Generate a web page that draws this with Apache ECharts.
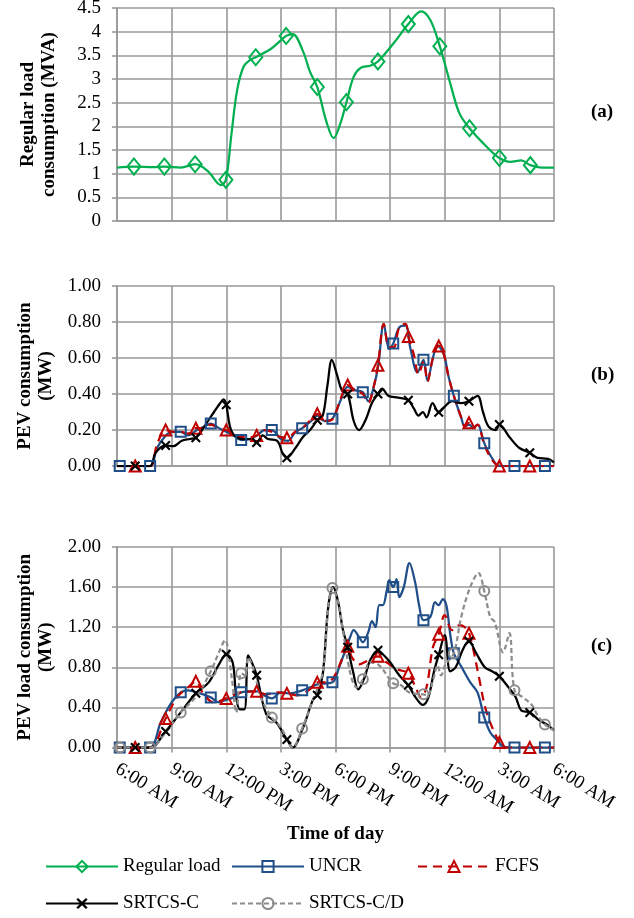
<!DOCTYPE html>
<html><head><meta charset="utf-8">
<script src="https://cdn.jsdelivr.net/npm/echarts@6/dist/echarts.min.js"></script>
<style>html,body{margin:0;padding:0;background:#fff}#c{width:634px;height:918px}</style>
</head><body><div id="c"></div>
<script>
// ---------- tick labels ----------
const xTickLabels = ['6:00 AM','9:00 AM','12:00 PM','3:00 PM','6:00 PM','9:00 PM','12:00 AM','3:00 AM','6:00 AM'];
const yTicksA = ['0','0.5','1','1.5','2','2.5','3','3.5','4','4.5'];
const yTicksB = ['0.00','0.20','0.40','0.60','0.80','1.00'];
const yTicksC = ['0.00','0.40','0.80','1.20','1.60','2.00'];

// ---------- marker times (hours after 6:00 AM) ----------
const diamondMarks = [0.93,2.6,4.29,5.98,7.62,9.29,11.0,12.6,14.33,16.0,17.73,19.36,21.0,22.7];
const squareMarks = [0.15,1.82,3.5,5.15,6.82,8.5,10.17,11.83,13.5,15.17,16.83,18.5,20.17,21.83,23.5];
const triMarks = [1.0,2.67,4.33,6.0,7.67,9.33,11.0,12.67,14.33,16.0,17.67,19.33,21.0,22.67];

// ---------- (a) Regular load (MVA) ----------
const loadT = [0,0.93,2,2.6,3.5,4.29,5.0,5.7,5.98,6.29,6.6,6.96,7.3,7.62,8.5,9.29,9.65,10.2,10.6,11.0,11.5,11.9,12.3,12.6,13.0,13.4,13.9,14.33,15.2,16.0,16.7,17.2,17.73,18.3,18.8,19.36,20.3,21.0,21.6,22.2,22.7,23.3,24];
const loadV = [1.13,1.15,1.14,1.15,1.13,1.2,1.05,0.76,0.87,1.85,2.77,3.27,3.4,3.46,3.65,3.91,3.95,3.6,3.15,2.83,2.1,1.75,2.1,2.51,3.05,3.24,3.28,3.37,3.76,4.16,4.43,4.25,3.69,2.91,2.28,1.96,1.57,1.33,1.25,1.28,1.18,1.13,1.13];

// ---------- (b) PEV consumption (MW) ----------
const uncrBT = [0,0.15,1.0,1.82,2.2,2.6,3.0,3.5,3.9,4.4,4.8,5.15,5.6,6.0,6.4,6.82,7.3,7.7,8.1,8.5,9.0,9.4,9.8,10.17,10.67,11.0,11.4,11.83,12.3,12.67,13.1,13.5,13.8,14.1,14.35,14.65,14.95,15.17,15.5,15.85,16.1,16.5,16.83,17.05,17.35,17.6,17.95,18.2,18.5,18.9,19.1,19.35,19.56,19.8,20.17,20.56,21.0,21.83,22.67,23.5,24];
const uncrBV = [0,0,0,0,0.1,0.16,0.19,0.19,0.17,0.2,0.22,0.236,0.21,0.19,0.17,0.144,0.15,0.17,0.2,0.2,0.15,0.14,0.19,0.21,0.25,0.28,0.25,0.263,0.37,0.44,0.42,0.41,0.36,0.44,0.56,0.79,0.65,0.68,0.77,0.78,0.66,0.52,0.59,0.475,0.6,0.67,0.62,0.5,0.39,0.27,0.22,0.23,0.21,0.23,0.127,0.05,0,0,0,0,0];
const fcfsBT = [0,1.0,1.82,2.2,2.67,3.1,3.5,3.9,4.33,4.8,5.15,5.6,6.0,6.4,6.82,7.3,7.67,8.1,8.5,9.0,9.33,9.8,10.17,10.67,11.0,11.4,11.83,12.3,12.67,13.1,13.5,13.8,14.1,14.33,14.65,14.95,15.2,15.5,15.85,16.0,16.3,16.56,16.84,17.05,17.35,17.67,17.95,18.2,18.5,18.9,19.1,19.33,19.56,19.8,20.17,20.56,21.0,22.67,24];
const fcfsBV = [0,0,0,0.12,0.2,0.19,0.19,0.18,0.21,0.21,0.23,0.21,0.2,0.18,0.16,0.16,0.17,0.2,0.19,0.16,0.157,0.19,0.21,0.26,0.29,0.25,0.26,0.38,0.45,0.42,0.4,0.35,0.44,0.56,0.79,0.66,0.66,0.77,0.79,0.72,0.62,0.51,0.58,0.47,0.6,0.667,0.62,0.5,0.39,0.27,0.22,0.24,0.21,0.23,0.12,0.04,0,0,0];
const srcBT = [0,1.0,1.82,2.1,2.67,3.1,3.56,4.0,4.33,4.67,5.0,5.33,5.67,5.85,6.0,6.2,6.44,6.9,7.3,7.67,8.0,8.3,8.8,9.1,9.33,9.8,10.2,10.6,11.0,11.3,11.56,11.8,12.1,12.35,12.67,13.0,13.3,13.67,14.0,14.33,14.56,14.9,15.44,16.0,16.3,16.56,16.8,17.0,17.33,17.67,18.0,18.4,18.9,19.33,19.8,20.1,20.4,20.8,21.0,21.56,22.1,22.67,23.1,23.67,24];
const srcBV = [0,0,0,0.07,0.114,0.11,0.14,0.15,0.157,0.2,0.25,0.3,0.35,0.37,0.34,0.22,0.17,0.15,0.15,0.13,0.17,0.15,0.14,0.07,0.046,0.1,0.16,0.2,0.254,0.28,0.45,0.59,0.5,0.42,0.40,0.25,0.2,0.26,0.35,0.40,0.43,0.39,0.38,0.365,0.32,0.28,0.3,0.27,0.35,0.298,0.33,0.36,0.35,0.36,0.39,0.3,0.22,0.2,0.23,0.16,0.1,0.074,0.045,0.04,0.02];

// ---------- (c) PEV load consumption (MW) ----------
const uncrCT = [0,0.15,1.0,1.82,2.4,3.0,3.5,3.9,4.4,5.15,5.6,5.9,6.4,6.82,7.3,7.7,8.1,8.5,9.0,9.5,10.17,10.6,11.0,11.83,12.2,12.5,12.8,13.0,13.3,13.5,13.8,14.0,14.2,14.4,14.6,14.8,14.95,15.17,15.35,15.5,15.75,16.06,16.37,16.6,16.83,17.2,17.47,17.65,17.9,18.1,18.3,18.5,18.9,19.4,19.8,20.17,20.5,20.9,21.2,21.83,22.67,23.5,24];
const uncrCV = [0,0,0,0,0.25,0.45,0.55,0.57,0.55,0.50,0.45,0.47,0.5,0.55,0.56,0.56,0.52,0.49,0.55,0.54,0.57,0.6,0.63,0.65,0.8,0.95,1.1,1.17,1.1,1.05,1.15,1.26,1.2,1.42,1.42,1.55,1.67,1.6,1.68,1.5,1.6,1.84,1.65,1.41,1.27,1.3,1.45,1.42,1.48,1.41,1.13,0.94,0.81,0.65,0.55,0.30,0.15,0.07,0.01,0,0,0,0];
const fcfsCT = [0,1.0,1.82,2.67,3.3,3.9,4.33,4.7,5.3,6.0,6.8,7.67,8.2,8.8,9.33,9.9,10.6,11.0,11.5,11.9,12.4,12.67,12.9,13.3,13.7,14.33,14.8,15.4,16.0,16.4,16.7,17.0,17.35,17.67,18.0,18.4,18.8,19.1,19.33,19.6,19.9,20.3,21.0,21.3,22.67,24];
const fcfsCV = [0,0,0,0.29,0.5,0.6,0.66,0.55,0.45,0.49,0.55,0.56,0.53,0.55,0.54,0.52,0.58,0.65,0.65,0.7,0.9,1.01,0.9,0.83,0.86,0.91,0.85,0.78,0.74,0.6,0.5,0.6,1.0,1.13,1.32,1.17,1.22,1.2,1.14,0.95,0.68,0.35,0.05,0,0,0];
const srcCT = [0,1.0,1.82,2.67,3.5,4.33,5.04,5.6,6.0,6.35,6.55,6.75,7.0,7.2,7.4,7.67,8.2,8.75,9.33,9.65,10.2,10.77,11.0,11.3,11.6,11.87,12.15,12.4,12.67,12.96,13.25,13.6,13.9,14.33,14.6,15.0,15.5,16.0,16.4,16.8,17.1,17.4,17.67,18.0,18.3,18.6,19.0,19.33,19.7,20.2,20.6,21.0,21.5,21.9,22.2,22.67,23.2,23.6,24];
const srcCV = [0,0,0,0.16,0.35,0.54,0.65,0.83,0.93,0.85,0.5,0.38,0.38,0.92,0.85,0.72,0.33,0.25,0.08,0.0,0.19,0.48,0.52,0.73,1.4,1.6,1.45,1.18,1.0,0.76,0.58,0.7,0.87,0.97,0.93,0.85,0.72,0.62,0.5,0.425,0.5,0.75,0.925,1.12,0.76,0.8,0.98,1.06,0.95,0.8,0.76,0.71,0.6,0.5,0.37,0.35,0.27,0.23,0.17];
const srcdCT = [0,0.15,1.0,1.82,2.67,3.5,4.4,5.15,5.6,5.93,6.3,6.55,6.82,7.05,7.2,7.5,7.9,8.5,9.0,9.65,10.17,10.77,11.3,11.6,11.83,12.15,12.4,12.8,13.16,13.5,13.9,14.4,15.17,15.6,16.04,16.83,17.04,17.4,17.6,17.8,18.04,18.5,18.9,19.4,19.85,20.17,20.5,20.75,21.2,21.55,21.83,22.3,22.8,23.1,23.5,24];
const srcdCV = [0,0,0,0,0.15,0.35,0.52,0.76,0.95,1.07,0.7,0.35,0.74,0.72,0.9,0.78,0.5,0.3,0.2,0.0,0.19,0.48,0.75,1.4,1.59,1.45,1.18,0.75,0.6,0.68,0.85,0.82,0.64,0.62,0.55,0.53,0.52,0.7,0.82,0.72,0.83,0.94,1.3,1.6,1.74,1.56,1.3,1.25,0.95,1.14,0.57,0.5,0.42,0.32,0.23,0.17];

// ---------- build ----------
const FONT = "'Liberation Serif','Times New Roman',serif";
const GRID = '#999999';
function build(T, V, marks) {
  return T.map((t, i) => {
    const isMark = marks.some(m => Math.abs(m - t) < 1e-6);
    return isMark ? { value: [t, V[i]] } : { value: [t, V[i]], symbol: 'none' };
  });
}
const X_PATH = 'path://M0,1.5L1.5,0L5,3.5L8.5,0L10,1.5L6.5,5L10,8.5L8.5,10L5,6.5L1.5,10L0,8.5L3.5,5Z';
const sty = {
  'Regular load': { color: '#00B050', symbol: 'diamond', size: [13, 16], dash: 'solid', hollow: true },
  'UNCR': { color: '#1F4E89', symbol: 'rect', size: 10, dash: 'solid', hollow: true },
  'FCFS': { color: '#C00000', symbol: 'triangle', size: 11, dash: [9, 6], hollow: true },
  'SRTCS-C': { color: '#000000', symbol: X_PATH, size: 10, dash: 'solid', hollow: false },
  'SRTCS-C/D': { color: '#8C8C8C', symbol: 'circle', size: 10, dash: [5, 3], hollow: true }
};
function mkSeries(name, idx, T, V, marks) {
  const s = sty[name];
  return {
    name, type: 'line', xAxisIndex: idx, yAxisIndex: idx,
    data: build(T, V, marks), smooth: 0.35,
    showSymbol: true, showAllSymbol: true,
    symbol: s.symbol, symbolSize: s.size,
    lineStyle: { color: s.color, width: 2.25, type: s.dash },
    itemStyle: s.hollow ? { color: 'rgba(255,255,255,0)', borderColor: s.color, borderWidth: 2 } : { color: s.color, borderWidth: 0 },
    emphasis: { disabled: true }, z: 3
  };
}
const grids = [
  { left: 117, right: 80, top: 8, height: 213 },
  { left: 117, right: 80, top: 286, height: 180 },
  { left: 117, right: 80, top: 547, height: 200.5 }
].map(g => Object.assign(g, { containLabel: false, outerBoundsMode: 'none' }));

function xAx(idx, labels) {
  return {
    type: 'value', gridIndex: idx, min: 0, max: 24, interval: 3,
    axisLine: { show: true, lineStyle: { color: GRID, width: 1.6 } },
    axisTick: { show: labels, length: 5, lineStyle: { color: GRID, width: 1.6 } },
    splitLine: { show: true, lineStyle: { color: GRID, width: 1.6 } },
    axisLabel: labels ? {
      show: true, rotate: -32, margin: 20, fontSize: 19, fontFamily: FONT, color: '#000',
      showMinLabel: true, showMaxLabel: true,
      formatter: v => xTickLabels[Math.round(v / 3)]
    } : { show: false },
    name: labels ? 'Time of day' : '', nameLocation: 'middle', nameGap: 77,
    nameTextStyle: { fontSize: 19, fontWeight: 'bold', fontFamily: FONT, color: '#000' }
  };
}
function yAx(idx, max, interval, ticks, name) {
  return {
    type: 'value', gridIndex: idx, min: 0, max, interval,
    axisLine: { show: true, lineStyle: { color: GRID, width: 1.6 } },
    axisTick: { show: true, length: 5, lineStyle: { color: GRID, width: 1.6 } },
    splitLine: { show: true, lineStyle: { color: GRID, width: 1.6 } },
    axisLabel: { fontSize: 19, fontFamily: FONT, color: '#000', margin: 16,
      formatter: v => ticks[Math.round(v / interval)] },
    name, nameLocation: 'middle', nameRotate: 90, nameGap: 57,
    nameTextStyle: { fontSize: 19, fontWeight: 'bold', fontFamily: FONT, color: '#000', lineHeight: 21 }
  };
}
const legendItems = [
  { name: 'Regular load', left: 45, top: 857 },
  { name: 'UNCR', left: 231, top: 857 },
  { name: 'FCFS', left: 417, top: 857 },
  { name: 'SRTCS-C', left: 45, top: 894 },
  { name: 'SRTCS-C/D', left: 231, top: 894 }
];
const option = {
  animation: false,
  backgroundColor: '#fff',
  grid: grids,
  xAxis: [xAx(0, false), xAx(1, false), xAx(2, true)],
  yAxis: [
    yAx(0, 4.5, 0.5, yTicksA, 'Regular load\nconsumption (MVA)'),
    yAx(1, 1.0, 0.2, yTicksB, 'PEV consumption\n(MW)'),
    yAx(2, 2.0, 0.4, yTicksC, 'PEV load consumption\n(MW)')
  ],
  legend: legendItems.map(it => ({
    data: [it.name], left: it.left, top: it.top, padding: 0, itemGap: 0,
    itemWidth: 72, itemHeight: 14, selectedMode: false,
    textStyle: { fontSize: 19, fontFamily: FONT, color: '#000' }
  })),
  graphic: [
    { type: 'text', left: 591, top: 103, style: { text: '(a)', font: 'bold 19px ' + FONT, fill: '#000' } },
    { type: 'text', left: 591, top: 366, style: { text: '(b)', font: 'bold 19px ' + FONT, fill: '#000' } },
    { type: 'text', left: 591, top: 637, style: { text: '(c)', font: 'bold 19px ' + FONT, fill: '#000' } }
  ],
  series: [
    mkSeries('Regular load', 0, loadT, loadV, diamondMarks),
    mkSeries('UNCR', 1, uncrBT, uncrBV, squareMarks),
    mkSeries('FCFS', 1, fcfsBT, fcfsBV, triMarks),
    mkSeries('SRTCS-C', 1, srcBT, srcBV, triMarks),
    mkSeries('UNCR', 2, uncrCT, uncrCV, squareMarks),
    mkSeries('FCFS', 2, fcfsCT, fcfsCV, triMarks),
    mkSeries('SRTCS-C', 2, srcCT, srcCV, triMarks),
    mkSeries('SRTCS-C/D', 2, srcdCT, srcdCV, squareMarks)
  ]
};
const chart = echarts.init(document.getElementById('c'), null, { renderer: 'canvas' });
chart.setOption(option);
</script>
</body></html>
